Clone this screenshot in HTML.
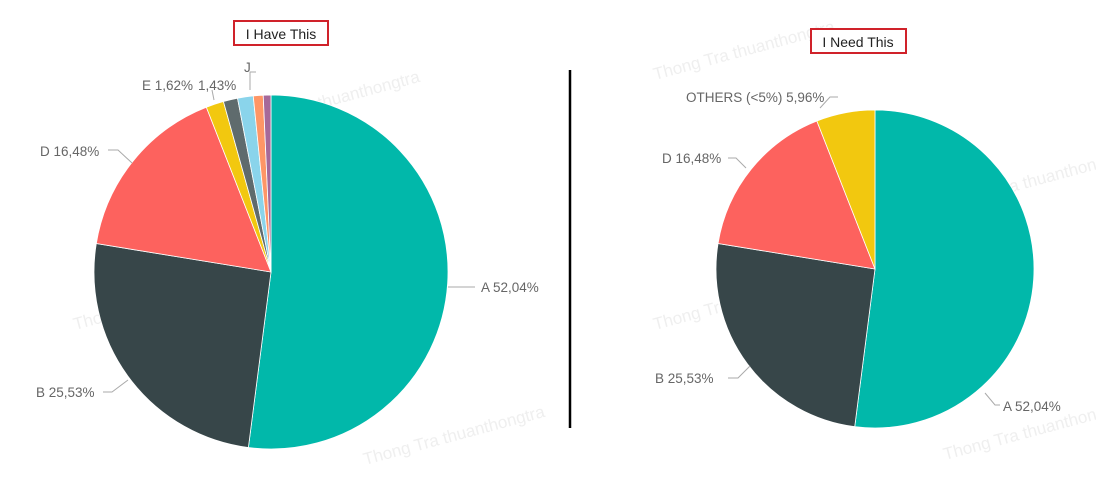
<!DOCTYPE html>
<html><head><meta charset="utf-8"><style>
body{margin:0;background:#fff;width:1096px;height:480px;overflow:hidden;font-family:"Liberation Sans",sans-serif}
svg{position:absolute;left:0;top:0}
</style></head><body>
<svg width="1096" height="480">
<g id="wm" fill="#efefef" font-size="17" font-family="Liberation Sans, sans-serif">
<text x="240" y="130" transform="rotate(-15 240 130)">Thong Tra thuanthongtra</text>
<text x="75" y="330" transform="rotate(-15 75 330)">Thong Tra thuanthongtra</text>
<text x="365" y="465" transform="rotate(-15 365 465)">Thong Tra thuanthongtra</text>
<text x="655" y="80" transform="rotate(-15 655 80)">Thong Tra thuanthongtra</text>
<text x="655" y="330" transform="rotate(-15 655 330)">Thong Tra thuanthongtra</text>
<text x="945" y="210" transform="rotate(-15 945 210)">Thong Tra thuanthongtra</text>
<text x="945" y="460" transform="rotate(-15 945 460)">Thong Tra thuanthongtra</text>
</g>
<g id="left"></g>
<g id="right"></g>
<line x1="570" y1="70" x2="570" y2="428" stroke="#000" stroke-width="2.5"/>
<rect x="234" y="21" width="94" height="24" fill="#fff" stroke="#d0222a" stroke-width="2"/>
<text x="281" y="39" text-anchor="middle" font-size="14" fill="#222">I Have This</text>
<rect x="811" y="29" width="95" height="24" fill="#fff" stroke="#d0222a" stroke-width="2"/>
<text x="858" y="47" text-anchor="middle" font-size="14" fill="#222">I Need This</text>
<g fill="none" stroke="#aaa" stroke-width="1">
<polyline points="448,287 475,287"/>
<polyline points="128,380 112,392 103,392"/>
<polyline points="132,163 118,150 108,150"/>
<polyline points="214,100 212,90"/>
<polyline points="250,90 250,72 256,72"/>
<polyline points="820,108 830,97 838,97"/>
<polyline points="746,168 736,158 728,158"/>
<polyline points="750,366 738,378 728,378"/>
<polyline points="985,393 995,405 1000,405"/>
</g>
<g fill="#666" font-size="13.5">
<text x="481" y="292">A 52,04%</text>
<text x="36" y="397">B 25,53%</text>
<text x="40" y="156">D 16,48%</text>
<text x="142" y="90">E 1,62%</text>
<text x="198" y="90">1,43%</text>
<text x="244" y="72">J</text>
<text x="686" y="102">OTHERS (&lt;5%) 5,96%</text>
<text x="662" y="163">D 16,48%</text>
<text x="655" y="383">B 25,53%</text>
<text x="1003" y="411">A 52,04%</text>
</g>
</svg>
<script>
const leftCats=['A','B','D','E','F','G','H','J'];
const leftVals=[52.04,25.53,16.48,1.62,1.3,1.43,0.9,0.7];
const leftColors=['#01b8aa','#374649','#fd625e','#f2c80f','#5f6b6d','#8ad4eb','#fe9666','#a66999'];
const rightCats=['A','B','D','OTHERS'];
const rightVals=[52.04,25.53,16.48,5.96];
const rightColors=['#01b8aa','#374649','#fd625e','#f2c80f'];
function drawPie(gid,cats,vals,colors,cx,cy,r){
  const g=document.getElementById(gid);
  const tot=vals.reduce((a,b)=>a+b,0);
  let a0=-Math.PI/2;
  vals.forEach((v,i)=>{
    const a1=a0+v/tot*2*Math.PI;
    const x0=cx+r*Math.cos(a0),y0=cy+r*Math.sin(a0),x1=cx+r*Math.cos(a1),y1=cy+r*Math.sin(a1);
    const p=document.createElementNS('http://www.w3.org/2000/svg','path');
    p.setAttribute('d',`M${cx},${cy}L${x0},${y0}A${r},${r} 0 ${a1-a0>Math.PI?1:0} 1 ${x1},${y1}Z`);
    p.setAttribute('fill',colors[i]);
    p.setAttribute('stroke','#fff');
    p.setAttribute('stroke-width','0.8');
    
    
    g.appendChild(p);
    a0=a1;
  });
}
drawPie('left',leftCats,leftVals,leftColors,271,272,177);
drawPie('right',rightCats,rightVals,rightColors,875,269,159);
</script>
</body></html>
